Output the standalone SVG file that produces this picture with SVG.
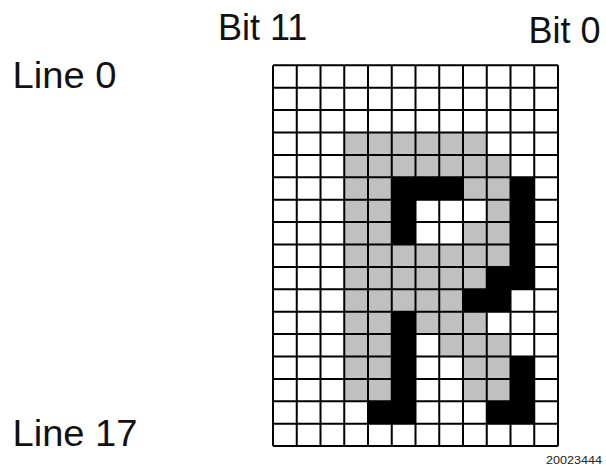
<svg xmlns="http://www.w3.org/2000/svg" width="606" height="468" viewBox="0 0 606 468">
<style>
.lbl{font-family:"Liberation Sans",Arial,sans-serif;font-size:36px;fill:#111}
.fig{font-family:"Liberation Sans",Arial,sans-serif;font-size:11px;fill:#222}
.g{fill:#c0c0c0}
.k{fill:#000}
.ln{stroke:#000;stroke-width:2;fill:none}
</style>
<rect width="606" height="468" fill="#fff"/>
<g id="labels">
<text class="lbl" x="218" y="39.5">Bit 11</text>
<text class="lbl" x="528.5" y="42.5">Bit 0</text>
<text class="lbl" x="12.5" y="87.5" textLength="104" lengthAdjust="spacingAndGlyphs">Line 0</text>
<text class="lbl" x="12.5" y="446" textLength="125" lengthAdjust="spacingAndGlyphs">Line 17</text>
<text class="fig" x="546" y="464" textLength="56" lengthAdjust="spacingAndGlyphs">20023444</text>
</g>
<g id="grid" transform="translate(273,65.3)">
<g id="gray">
<rect class="g" x="71.25" y="67.2" width="142.5" height="22.4"/>
<rect class="g" x="71.25" y="89.6" width="166.25" height="22.4"/>
<rect class="g" x="71.25" y="112" width="47.5" height="22.4"/>
<rect class="g" x="190" y="112" width="47.5" height="22.4"/>
<rect class="g" x="71.25" y="134.4" width="47.5" height="22.4"/>
<rect class="g" x="213.75" y="134.4" width="23.75" height="22.4"/>
<rect class="g" x="71.25" y="156.8" width="47.5" height="22.4"/>
<rect class="g" x="190" y="156.8" width="47.5" height="22.4"/>
<rect class="g" x="71.25" y="179.2" width="166.25" height="22.4"/>
<rect class="g" x="71.25" y="201.6" width="142.5" height="22.4"/>
<rect class="g" x="71.25" y="224" width="118.75" height="22.4"/>
<rect class="g" x="71.25" y="246.4" width="47.5" height="22.4"/>
<rect class="g" x="142.5" y="246.4" width="71.25" height="22.4"/>
<rect class="g" x="71.25" y="268.8" width="47.5" height="22.4"/>
<rect class="g" x="166.25" y="268.8" width="71.25" height="22.4"/>
<rect class="g" x="71.25" y="291.2" width="47.5" height="22.4"/>
<rect class="g" x="190" y="291.2" width="47.5" height="22.4"/>
<rect class="g" x="71.25" y="313.6" width="47.5" height="22.4"/>
<rect class="g" x="190" y="313.6" width="47.5" height="22.4"/>
</g>
<g id="black">
<rect class="k" x="118.75" y="112" width="71.25" height="22.4"/>
<rect class="k" x="237.5" y="112" width="23.75" height="22.4"/>
<rect class="k" x="118.75" y="134.4" width="23.75" height="22.4"/>
<rect class="k" x="237.5" y="134.4" width="23.75" height="22.4"/>
<rect class="k" x="118.75" y="156.8" width="23.75" height="22.4"/>
<rect class="k" x="237.5" y="156.8" width="23.75" height="22.4"/>
<rect class="k" x="237.5" y="179.2" width="23.75" height="22.4"/>
<rect class="k" x="213.75" y="201.6" width="47.5" height="22.4"/>
<rect class="k" x="190" y="224" width="47.5" height="22.4"/>
<rect class="k" x="118.75" y="246.4" width="23.75" height="22.4"/>
<rect class="k" x="118.75" y="268.8" width="23.75" height="22.4"/>
<rect class="k" x="118.75" y="291.2" width="23.75" height="22.4"/>
<rect class="k" x="237.5" y="291.2" width="23.75" height="22.4"/>
<rect class="k" x="118.75" y="313.6" width="23.75" height="22.4"/>
<rect class="k" x="237.5" y="313.6" width="23.75" height="22.4"/>
<rect class="k" x="95" y="336" width="47.5" height="22.4"/>
<rect class="k" x="213.75" y="336" width="47.5" height="22.4"/>
</g>
<path class="ln" d="M0 0V380.8M23.75 0V380.8M47.5 0V380.8M71.25 0V380.8M95 0V380.8M118.75 0V380.8M142.5 0V380.8M166.25 0V380.8M190 0V380.8M213.75 0V380.8M237.5 0V380.8M261.25 0V380.8M285 0V380.8"/>
<path class="ln" d="M0 0H285M0 22.4H285M0 44.8H285M0 67.2H285M0 89.6H285M0 112H285M0 134.4H285M0 156.8H285M0 179.2H285M0 201.6H285M0 224H285M0 246.4H285M0 268.8H285M0 291.2H285M0 313.6H285M0 336H285M0 358.4H285M0 380.8H285"/>
</g>
</svg>
